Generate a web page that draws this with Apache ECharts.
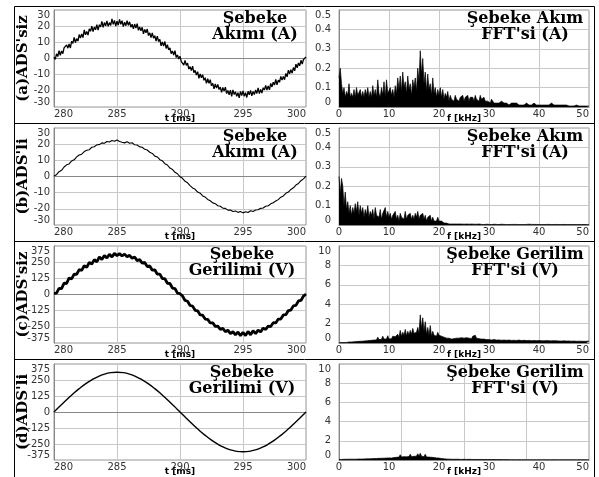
<!DOCTYPE html>
<html><head><meta charset="utf-8">
<script src="https://cdn.jsdelivr.net/npm/echarts@6/dist/echarts.min.js"></script>
<style>html,body{margin:0;padding:0;background:#fff}#c{width:599px;height:477px}</style>
</head><body><div id="c"></div>
<script>
// ---- time-domain data (t from 280 to 300 ms) ----
const tStart = 280;
const stepA = 0.1;  // ms
const currentA = [
0.8,-0.5,2.9,1.2,4.8,2.0,4.7,3.0,6.6,5.6,
8.4,6.4,9.0,6.5,10.7,9.3,13.0,9.9,12.3,10.8,
14.8,12.7,15.2,12.9,17.7,14.6,16.7,14.5,18.4,16.8,
20.0,16.7,19.4,17.8,21.0,17.5,20.9,19.5,23.0,19.3,
22.2,20.2,23.3,19.9,22.2,20.5,24.5,21.1,23.5,20.1,
23.1,20.6,24.2,21.2,23.4,19.7,22.5,20.3,23.4,20.5,
22.7,19.4,21.2,18.3,21.3,18.8,21.6,17.4,19.5,17.1,
19.3,15.3,18.0,15.9,18.2,14.2,15.9,12.9,15.9,12.6,
14.1,10.8,13.8,10.5,11.9,7.8,10.3,7.7,10.5,6.2,
8.5,5.3,6.6,3.0,4.7,2.2,4.8,0.6,2.2,-0.3,
1.4,-1.8,-0.7,-4.1,-1.2,-4.3,-2.9,-6.5,-5.0,-7.5,
-4.7,-8.7,-7.3,-10.3,-8.1,-12.3,-9.6,-11.9,-10.0,-13.5,
-11.9,-15.4,-12.5,-15.4,-13.1,-16.9,-15.4,-18.7,-15.8,-18.3,
-16.1,-19.2,-17.7,-21.0,-17.9,-20.2,-17.7,-21.7,-19.8,-22.5,
-19.6,-23.5,-19.4,-22.3,-20.5,-23.4,-21.2,-24.4,-20.4,-23.0,
-20.0,-23.3,-21.2,-24.1,-20.3,-22.4,-19.7,-23.1,-20.4,-22.3,
-19.5,-21.6,-18.2,-21.7,-19.2,-21.4,-18.1,-19.5,-16.6,-19.6,
-16.9,-19.4,-15.4,-17.6,-14.7,-16.4,-13.0,-16.3,-13.4,-14.7,
-11.1,-13.4,-11.1,-13.1,-9.2,-11.3,-7.2,-9.5,-7.0,-9.1,
-5.6,-7.6,-3.5,-5.7,-2.8,-4.5,-1.1,-3.5,-0.6,-1.3,1.0];
const stepB = 0.2;
const currentB = [
0.3,1.1,3.0,3.8,5.9,7.2,7.8,9.6,10.3,12.1,
13.3,13.8,15.4,16.2,16.6,18.1,18.4,19.6,19.7,20.8,
20.6,21.6,21.3,22.3,21.8,22.6,21.7,21.2,20.8,21.5,
20.6,20.9,19.6,19.5,18.3,18.1,16.8,16.4,15.0,14.3,
12.6,12.1,10.4,9.7,7.9,7.1,5.2,4.4,2.6,1.7,
-0.2,-1.1,-3.0,-3.9,-5.6,-7.1,-7.9,-9.6,-10.3,-12.0,
-12.7,-14.2,-15.0,-16.3,-16.8,-18.1,-18.4,-19.6,-19.7,-20.8,
-20.7,-21.6,-21.3,-22.2,-21.7,-22.5,-21.8,-22.3,-21.2,-21.6,
-20.7,-20.6,-19.7,-19.5,-18.4,-18.1,-16.9,-16.2,-15.2,-14.3,
-12.8,-12.0,-10.4,-9.6,-8.0,-7.0,-5.3,-4.3,-2.6,-1.5,0.2];
const stepC = 0.2;
const voltageC = [
8,10,47,45,88,85,128,120,158,155,
193,186,222,210,248,236,270,252,290,270,
302,282,312,290,318,300,316,298,312,292,
303,280,290,262,270,243,248,216,221,188,
191,157,158,123,122,87,85,50,46,11,
6,-12,-46,-52,-85,-90,-122,-126,-158,-160,
-190,-192,-220,-220,-246,-244,-270,-262,-288,-276,
-302,-288,-312,-290,-318,-292,-318,-285,-312,-280,
-302,-275,-290,-260,-270,-244,-248,-218,-220,-190,
-190,-158,-156,-124,-120,-88,-84,-50,-46,-12,4];
const stepD = 0.5;
const voltageD = [
0,48.6,96.1,141.2,182.8,219.9,251.6,277.1,295.8,307.2,
311,307.2,295.8,277.1,251.6,219.9,182.8,141.2,96.1,48.6,
0,-48.6,-96.1,-141.2,-182.8,-219.9,-251.6,-277.1,-295.8,-307.2,
-311,-307.2,-295.8,-277.1,-251.6,-219.9,-182.8,-141.2,-96.1,-48.6,0];

// ---- FFT data (0 to 50 kHz, 0.25 kHz bins) ----
const fStep = 0.25;
const fftA = [
0.15,0.2,0.12,0.07,0.1,0.05,0.08,0.06,0.12,0.05,0.07,0.05,0.09,0.05,0.1,0.06,0.05,0.09,0.05,0.08,
0.05,0.09,0.06,0.1,0.05,0.08,0.05,0.11,0.06,0.09,0.05,0.14,0.07,0.05,0.1,0.06,0.13,0.05,0.14,0.07,
0.06,0.1,0.06,0.09,0.05,0.11,0.07,0.15,0.09,0.16,0.08,0.18,0.1,0.13,0.07,0.16,0.09,0.12,0.06,0.14,
0.1,0.15,0.08,0.2,0.13,0.29,0.17,0.25,0.12,0.18,0.08,0.17,0.09,0.12,0.06,0.15,0.07,0.1,0.05,0.09,
0.06,0.1,0.05,0.09,0.04,0.07,0.05,0.08,0.03,0.06,0.04,0.05,0.03,0.06,0.04,0.05,0.03,0.05,0.04,0.06,
0.03,0.05,0.04,0.06,0.03,0.05,0.04,0.05,0.03,0.06,0.04,0.05,0.03,0.06,0.04,0.03,0.05,0.03,0.04,0.03,
0.03,0.02,0.04,0.03,0.02,0.03,0.02,0.03,0.02,0.02,0.03,0.02,0.02,0.03,0.02,0.02,0.01,0.02,0.02,0.01,
0.02,0.01,0.02,0.02,0.01,0.02,0.01,0.02,0.01,0.01,0.02,0.01,0.01,0.02,0.01,0.01,0.02,0.01,0.01,0.01,
0.01,0.02,0.01,0.01,0.01,0.02,0.01,0.01,0.01,0.01,0.02,0.01,0.01,0.01,0.01,0.01,0.01,0.01,0.01,0.01,
0.01,0.005,0.01,0.01,0.005,0.01,0.005,0.01,0.005,0.005,0.01,0.005,0.005,0.01,0.005,0.005,0.005,0.005,0.005,0.005,
0.005];
const fftB = [
0.25,0.16,0.24,0.2,0.1,0.17,0.08,0.12,0.06,0.1,0.05,0.09,0.06,0.11,0.07,0.12,0.05,0.1,0.06,0.09,
0.04,0.08,0.05,0.1,0.04,0.07,0.05,0.08,0.03,0.09,0.05,0.06,0.04,0.08,0.03,0.06,0.05,0.09,0.04,0.07,
0.04,0.06,0.03,0.05,0.04,0.07,0.03,0.05,0.02,0.06,0.04,0.05,0.03,0.07,0.03,0.05,0.04,0.06,0.03,0.05,
0.03,0.06,0.04,0.07,0.03,0.05,0.04,0.06,0.03,0.05,0.02,0.04,0.03,0.05,0.02,0.04,0.02,0.03,0.02,0.04,
0.02,0.03,0.02,0.02,0.01,0.01,0.01,0.01,0.005,0.01,0.005,0.005,0.005,0.005,0.005,0.005,0.005,0.005,0.005,0.005,
0.004,0.003,0.005,0.002,0.004,0.003,0.005,0.003,0.004,0.002,0.004,0.003,0.005,0.002,0.003,0.004,0.002,0.003,0.004,0.002,
0.003,0.004,0.002,0.003,0.004,0.002,0.003,0.005,0.002,0.003,0.004,0.002,0.003,0.003,0.002,0.004,0.002,0.003,0.003,0.002,
0.003,0.002,0.003,0.004,0.002,0.003,0.002,0.003,0.002,0.003,0.003,0.002,0.004,0.002,0.003,0.002,0.003,0.002,0.003,0.002,
0.002,0.003,0.002,0.003,0.002,0.002,0.003,0.002,0.003,0.002,0.002,0.003,0.002,0.002,0.003,0.002,0.002,0.003,0.002,0.002,
0.003,0.002,0.002,0.003,0.002,0.002,0.002,0.003,0.002,0.002,0.002,0.003,0.002,0.002,0.002,0.002,0.003,0.002,0.002,0.002,
0.002];
const fftC = [
0.03,0.05,0.04,0.06,0.05,0.07,0.06,0.08,0.1,0.12,0.1,0.15,0.12,0.18,0.15,0.2,0.17,0.22,0.18,0.25,
0.2,0.3,0.22,0.35,0.25,0.3,0.28,0.4,0.3,0.45,0.32,0.6,0.35,0.5,0.38,0.7,0.4,0.55,0.42,0.75,
0.4,0.6,0.45,0.7,0.5,0.65,0.55,0.9,0.6,1.3,0.7,1.1,0.8,1.4,0.75,1.2,0.85,1.3,0.9,1.5,
1.0,1.2,1.1,1.6,1.0,2.9,1.5,2.6,1.2,2.2,0.9,1.6,0.8,1.8,0.7,1.2,0.8,1.0,0.7,1.1,
0.8,1.0,0.7,0.9,0.6,0.8,0.5,0.7,0.5,0.6,0.4,0.55,0.45,0.6,0.5,0.65,0.5,0.7,0.55,0.65,
0.5,0.7,0.55,0.6,0.5,0.65,0.45,0.7,0.55,0.8,0.5,0.65,0.45,0.6,0.4,0.55,0.4,0.5,0.35,0.45,
0.35,0.45,0.3,0.4,0.35,0.42,0.3,0.38,0.32,0.4,0.28,0.35,0.3,0.38,0.28,0.34,0.3,0.36,0.27,0.33,
0.28,0.35,0.26,0.32,0.3,0.38,0.25,0.32,0.28,0.34,0.25,0.3,0.27,0.33,0.24,0.3,0.26,0.35,0.24,0.3,
0.26,0.35,0.24,0.3,0.22,0.28,0.25,0.32,0.23,0.3,0.22,0.28,0.24,0.4,0.22,0.3,0.21,0.27,0.2,0.26,
0.22,0.28,0.2,0.25,0.21,0.27,0.19,0.24,0.2,0.26,0.18,0.23,0.19,0.25,0.18,0.22,0.17,0.23,0.18,0.22,
0.2];
const fftD = [
0.05,0.08,0.06,0.1,0.07,0.09,0.08,0.11,0.08,0.12,0.09,0.1,0.08,0.13,0.09,0.12,0.1,0.14,0.1,0.13,
0.11,0.15,0.12,0.17,0.12,0.2,0.14,0.18,0.15,0.22,0.16,0.2,0.17,0.25,0.18,0.22,0.19,0.28,0.2,0.25,
0.22,0.3,0.2,0.35,0.25,0.3,0.28,0.45,0.3,0.55,0.32,0.4,0.35,0.5,0.33,0.45,0.36,0.6,0.35,0.5,
0.38,0.55,0.4,0.65,0.38,0.7,0.4,0.55,0.35,0.6,0.32,0.45,0.3,0.4,0.28,0.38,0.25,0.35,0.22,0.3,
0.2,0.25,0.15,0.18,0.12,0.14,0.1,0.12,0.09,0.11,0.08,0.1,0.07,0.09,0.08,0.1,0.07,0.09,0.06,0.08,
0.07,0.09,0.06,0.08,0.07,0.1,0.06,0.08,0.05,0.09,0.06,0.08,0.05,0.07,0.06,0.08,0.05,0.07,0.05,0.06,
0.05,0.07,0.04,0.06,0.05,0.07,0.04,0.06,0.04,0.05,0.04,0.06,0.03,0.05,0.04,0.05,0.03,0.05,0.03,0.04,
0.03,0.04,0.02,0.03,0.03,0.04,0.02,0.03,0.03,0.04,0.02,0.03,0.02,0.04,0.02,0.03,0.02,0.03,0.02,0.03,
0.02,0.03,0.02,0.03,0.02,0.02,0.03,0.02,0.02,0.03,0.02,0.02,0.03,0.02,0.02,0.03,0.02,0.02,0.02,0.03,
0.02,0.02,0.03,0.02,0.02,0.02,0.03,0.02,0.02,0.02,0.02,0.03,0.02,0.02,0.02,0.02,0.02,0.03,0.02,0.02,
0.02];

// ---- labels ----
const timeTicks = {min:280, max:300, interval:5};
const freqTicks = {min:0, max:50, interval:10};
const panelDGridF = [12.5, 25, 37.5];
const yNames = ["(a)ADS'siz", "(b)ADS'li", "(c)ADS'siz", "(d)ADS'li"];
const leftNotes = ["Şebeke\nAkımı (A)", "Şebeke\nAkımı (A)", "Şebeke\nGerilimi (V)", "Şebeke\nGerilimi (V)"];
const rightNotes = ["Şebeke Akım\nFFT'si (A)", "Şebeke Akım\nFFT'si (A)", "Şebeke Gerilim\nFFT'si (V)", "Şebeke Gerilim\nFFT'si (V)"];
const leftY = [{min:-30,max:30,interval:10},{min:-30,max:30,interval:10},{min:-375,max:375,interval:125},{min:-375,max:375,interval:125}];
const rightY = [{min:0,max:0.5,interval:0.1},{min:0,max:0.5,interval:0.1},{min:0,max:10,interval:2},{min:0,max:10,interval:2}];

const timeSeries = [[currentA, stepA, 1.3], [currentB, stepB, 1.1], [voltageC, stepC, 2.8], [voltageD, stepD, 1.4]];
const fftSeries = [fftA, fftB, fftC, fftD];

// ---- layout ----
const tops = [10, 128, 246, 364];
const H = 97;
const LX = 54, LW = 252, RX = 339, RW = 250;
const gridCol = '#c8c8c8';
const lblStyle = {fontSize:10, color:'#333', fontFamily:'DejaVu Sans'};

const grids = [], xAxes = [], yAxes = [], series = [], graphics = [];
for (let r = 0; r < 4; r++) {
  grids.push({left:LX, top:tops[r], width:LW, height:H, show:true, borderColor:'#999', borderWidth:1});
  grids.push({left:RX, top:tops[r], width:RW, height:H, show:true, borderColor:'#999', borderWidth:1});
  const gl = 2*r, gr = 2*r+1;
  xAxes.push({gridIndex:gl, type:'value', min:timeTicks.min, max:timeTicks.max, interval:timeTicks.interval,
    name:'t [ms]', nameLocation:'middle', nameGap:7, nameMoveOverlap:false,
    nameTextStyle:{fontSize:9, fontWeight:'bold', color:'#000', fontFamily:'DejaVu Sans', verticalAlign:'top'},
    axisLabel:Object.assign({margin:2, alignMinLabel:'left', alignMaxLabel:'right'}, lblStyle),
    axisTick:{show:false}, axisLine:{lineStyle:{color:'#888'}},
    splitLine:{show:true, lineStyle:{color:gridCol}}});
  xAxes.push({gridIndex:gr, type:'value', min:freqTicks.min, max:freqTicks.max, interval:freqTicks.interval,
    name:'f [kHz]', nameLocation:'middle', nameGap:7, nameMoveOverlap:false,
    nameTextStyle:{fontSize:9, fontWeight:'bold', color:'#000', fontFamily:'DejaVu Sans', verticalAlign:'top'},
    axisLabel:Object.assign({margin:2, alignMaxLabel:'right'}, lblStyle),
    axisTick:{show:false}, axisLine:{lineStyle:{color:'#888'}},
    splitLine:{show:r !== 3, lineStyle:{color:gridCol}}});
  yAxes.push({gridIndex:gl, type:'value', min:leftY[r].min, max:leftY[r].max, interval:leftY[r].interval,
    name:yNames[r], nameLocation:'middle', nameRotate:90, nameGap:23, nameMoveOverlap:false,
    nameTextStyle:{fontSize:15, fontWeight:'bold', color:'#000', fontFamily:'DejaVu Serif'},
    axisLabel:Object.assign({margin:4, verticalAlignMaxLabel:'top', verticalAlignMinLabel:'bottom'}, lblStyle),
    axisTick:{show:false}, axisLine:{show:true, lineStyle:{color:'#888'}},
    splitLine:{show:true, lineStyle:{color:gridCol}}});
  yAxes.push({gridIndex:gr, type:'value', min:rightY[r].min, max:rightY[r].max, interval:rightY[r].interval,
    axisLabel:Object.assign({margin:8, verticalAlignMaxLabel:'top', verticalAlignMinLabel:'bottom'}, lblStyle),
    axisTick:{show:false}, axisLine:{show:true, lineStyle:{color:'#888'}},
    splitLine:{show:true, lineStyle:{color:gridCol}}});

  const [vals, st, lw] = timeSeries[r];
  series.push({type:'line', xAxisIndex:gl, yAxisIndex:gl, showSymbol:false, symbol:'none',
    smooth: r === 3, lineStyle:{color:'#000', width:lw}, data: vals.map((v,i)=>[tStart + i*st, v])});
  const fs = {type:'line', xAxisIndex:gr, yAxisIndex:gr, symbol:'none', showSymbol:false,
    lineStyle:{color:'#000', width:0.7}, areaStyle:{color:'#000', opacity:1},
    data: fftSeries[r].map((v,i)=>[i*fStep, v])};
  if (r === 3) {
    fs.markLine = {silent:true, symbol:'none', label:{show:false}, z:0,
      lineStyle:{color:gridCol, type:'solid', width:1}, data: panelDGridF.map(x=>({xAxis:x}))};
  }
  series.push(fs);

  const lcx = r < 2 ? 255 : 242;
  const rcx = r < 2 ? 525 : 515;
  graphics.push({type:'text', x:lcx, y:tops[r]+1, z:100, style:{text:leftNotes[r], font:'bold 16px "DejaVu Serif"', fill:'#000', align:'center', verticalAlign:'top', lineHeight:16}});
  graphics.push({type:'text', x:rcx, y:tops[r]+1, z:100, style:{text:rightNotes[r], font:'bold 16px "DejaVu Serif"', fill:'#000', align:'center', verticalAlign:'top', lineHeight:16}});
}
// figure frame
graphics.push({type:'rect', shape:{x:14.5, y:6.5, width:580, height:480}, style:{fill:'none', stroke:'#000', lineWidth:1}});
[123.5, 241.5, 359.5].forEach(y => graphics.push({type:'line', shape:{x1:14.5, y1:y, x2:594.5, y2:y}, style:{stroke:'#000', lineWidth:1}}));

const chart = echarts.init(document.getElementById('c'), null, {renderer:'canvas'});
chart.setOption({animation:false, backgroundColor:'#fff', grid:grids, xAxis:xAxes, yAxis:yAxes, series:series, graphic:graphics});
</script></body></html>
